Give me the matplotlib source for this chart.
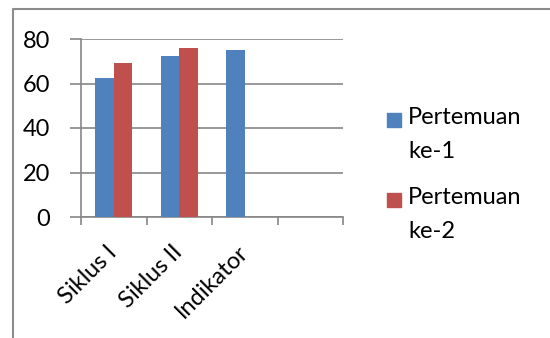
import numpy as np
import matplotlib
matplotlib.use("Agg")
from matplotlib import pyplot as plt
from matplotlib.lines import Line2D
from matplotlib.patches import Rectangle

categories = ['Siklus I', 'Siklus II', 'Indikator', '']
pertemuan_1 = [62.5, 72.5, 75, np.nan]
pertemuan_2 = [69.4, 76, np.nan, np.nan]
series_names = ['Pertemuan\nke-1', 'Pertemuan\nke-2']
series_colors = ['#4F81BD', '#C0504D']
y_ticks = [0, 20, 40, 60, 80]

plt.rcParams['font.family'] = ['Lato', 'DejaVu Sans']
grid_grey = '#868686'
fs = 17

fig = plt.figure(figsize=(5.5, 3.38), dpi=100)
ax = fig.add_axes([81 / 550, 1 - 217 / 338, 262 / 550, 178 / 338])

x = np.arange(len(categories))
width = 0.285
for i, (vals, color) in enumerate(zip([pertemuan_1, pertemuan_2], series_colors)):
    offset = (i - 0.5) * width
    ax.bar(x + offset, vals, width, color=color, zorder=3)

ax.set_xlim(-0.5, len(categories) - 0.5)
ax.set_ylim(0, 80)
ax.set_yticks(y_ticks)
ax.set_yticklabels([str(t) for t in y_ticks], fontsize=fs)
ax.yaxis.grid(True, color=grid_grey, linewidth=1.2, zorder=0)

# boundaries between categories carry the tick marks, labels sit at centers
ax.set_xticks(np.arange(len(categories) + 1) - 0.5)
ax.set_xticklabels([])
ax.set_xticks(x, minor=True)
ax.set_xticklabels(categories, minor=True, rotation=45, ha='right', va='center',
                   rotation_mode='anchor', fontsize=fs)
ax.tick_params(axis='x', which='minor', length=0, pad=23)
ax.tick_params(axis='x', which='major', length=6, width=1.2, color=grid_grey)
ax.tick_params(axis='y', length=8, width=1.2, color=grid_grey, pad=14)

for side in ['top', 'right']:
    ax.spines[side].set_visible(False)
for side in ['left', 'bottom']:
    ax.spines[side].set_color(grid_grey)
    ax.spines[side].set_linewidth(1.2)

# legend: square swatch next to the first line of each label
for i, (name, color) in enumerate(zip(series_names, series_colors)):
    y0 = 1 - (120 + i * 80) / 338
    fig.add_artist(Rectangle((387 / 550, y0 - 7 / 338), 14 / 550, 14 / 338,
                             transform=fig.transFigure, color=color))
    fig.text(408 / 550, y0 + 13 / 338, name, fontsize=fs, va='top', ha='left',
             linespacing=1.75)

# chart frame (left and top edges)
fig.add_artist(Line2D([13 / 550, 13 / 550, 1], [0, 1 - 9 / 338, 1 - 9 / 338],
                      transform=fig.transFigure, color='#8c8c8c', linewidth=1.5))

fig.savefig('out.png', dpi=100)
